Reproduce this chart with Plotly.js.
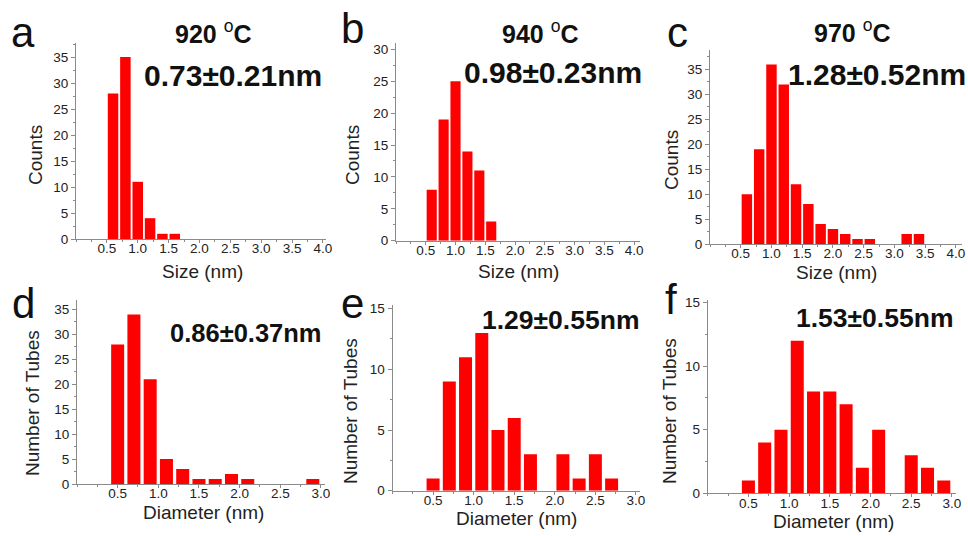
<!DOCTYPE html>
<html>
<head>
<meta charset="utf-8">
<script src="https://cdn.plot.ly/plotly-3.0.1.min.js"></script>
<style>
html,body{margin:0;padding:0;background:#fff;overflow:hidden;}
#chart{width:968px;height:536px;}
</style>
</head>
<body>
<div id="chart"></div>
<script>
// ---- data ----
const aSize = [0.6, 0.8, 1.0, 1.2, 1.4, 1.6];
const aCounts = [28, 35, 11, 4, 1, 1];
const bSize = [0.6, 0.8, 1.0, 1.2, 1.4, 1.6];
const bCounts = [8, 19, 25, 14, 11, 3];
const cSize = [0.6, 0.8, 1.0, 1.2, 1.4, 1.6, 1.8, 2.0, 2.2, 2.4, 2.6, 3.2, 3.4];
const cCounts = [10, 19, 36, 32, 12, 8, 4, 3, 2, 1, 1, 2, 2];
const dDiam = [0.5, 0.7, 0.9, 1.1, 1.3, 1.5, 1.7, 1.9, 2.1, 2.9];
const dTubes = [28, 34, 21, 5, 3, 1, 1, 2, 1, 1];
const eDiam = [0.5, 0.7, 0.9, 1.1, 1.3, 1.5, 1.7, 2.1, 2.3, 2.5, 2.7];
const eTubes = [1, 9, 11, 13, 5, 6, 3, 3, 1, 3, 1];
const fDiam = [0.5, 0.7, 0.9, 1.1, 1.3, 1.5, 1.7, 1.9, 2.1, 2.5, 2.7, 2.9];
const fTubes = [1, 4, 5, 12, 8, 8, 7, 2, 5, 3, 2, 1];

const topTicks = [0.5, 1.0, 1.5, 2.0, 2.5, 3.0, 3.5, 4.0];
const topTickText = ['0.5', '1.0', '1.5', '2.0', '2.5', '3.0', '3.5', '4.0'];
const botTicks = [0.5, 1.0, 1.5, 2.0, 2.5, 3.0];
const botTickText = ['0.5', '1.0', '1.5', '2.0', '2.5', '3.0'];

const panelLetters = ['a', 'b', 'c', 'd', 'e', 'f'];
const tempValues = ['920', '940', '970'];
const meanLabels = ['0.73±0.21nm', '0.98±0.23nm', '1.28±0.52nm', '0.86±0.37nm', '1.29±0.55nm', '1.53±0.55nm'];
const yTitles = ['Counts', 'Counts', 'Counts', 'Number of Tubes', 'Number of Tubes', 'Number of Tubes'];
const xTitles = ['Size (nm)', 'Size (nm)', 'Size (nm)', 'Diameter (nm)', 'Diameter (nm)', 'Diameter (nm)'];

// ---- layout helpers (pixel -> paper) ----
const W = 968, H = 536;
const px = v => v / W;
const py = v => 1 - v / H;

const RED = '#ff0000';
const AX = '#8a8a8a';
const TXT = '#222222';
const FONT = 'Liberation Sans, Arial, sans-serif';

const xs = [aSize, bSize, cSize, dDiam, eDiam, fDiam];
const ys = [aCounts, bCounts, cCounts, dTubes, eTubes, fTubes];
const barW = [0.17, 0.17, 0.17, 0.16, 0.16, 0.16];

const traces = xs.map((x, i) => ({
  type: 'bar',
  x: x,
  y: ys[i],
  width: barW[i],
  marker: {color: RED, line: {width: 0}},
  xaxis: i === 0 ? 'x' : 'x' + (i + 1),
  yaxis: i === 0 ? 'y' : 'y' + (i + 1),
  hoverinfo: 'x+y',
  showlegend: false
}));

// panel geometry in pixels: [x0, x1], [yTop, yBottom], ranges
const geom = [
  {x: [76, 326], y: [43, 239], xr: [0, 4.05], yr: [0, 37.7], ydt: 5},
  {x: [396, 640], y: [43, 240.7], xr: [0, 4.1], yr: [0, 31], ydt: 5},
  {x: [710, 962], y: [49.5, 244], xr: [0, 4.1], yr: [0, 39], ydt: 5},
  {x: [77, 325], y: [299.5, 484], xr: [0, 3.05], yr: [0, 37], ydt: 5},
  {x: [392.5, 640], y: [305, 490.7], xr: [0, 3.05], yr: [0, 15.3], ydt: 5},
  {x: [707.7, 956], y: [300, 493.3], xr: [0, 3.05], yr: [0, 15.2], ydt: 5}
];

const layout = {
  width: W, height: H,
  margin: {l: 0, r: 0, t: 0, b: 0},
  paper_bgcolor: '#fff',
  plot_bgcolor: '#fff',
  font: {family: FONT, color: TXT},
  showlegend: false,
  annotations: []
};

geom.forEach((g, i) => {
  const top = i < 3;
  const xk = i === 0 ? 'xaxis' : 'xaxis' + (i + 1);
  const yk = i === 0 ? 'yaxis' : 'yaxis' + (i + 1);
  layout[xk] = {
    domain: [px(g.x[0]), px(g.x[1])],
    range: g.xr,
    anchor: i === 0 ? 'y' : 'y' + (i + 1),
    tickmode: 'array',
    tickvals: top ? topTicks : botTicks,
    ticktext: top ? topTickText : botTickText,
    ticks: 'outside', ticklen: 3, tickcolor: AX, tickwidth: 1,
    ticklabelstandoff: -6,
    ticklabeloverflow: 'allow',
    minor: {ticks: 'outside', ticklen: 2, tickcolor: AX, dtick: 0.25, tick0: 0},
    showline: true, linecolor: AX, linewidth: 1,
    showgrid: false, zeroline: false,
    tickfont: {size: 13.5, color: TXT, family: FONT},
    fixedrange: true
  };
  layout[yk] = {
    domain: [py(g.y[1]), py(g.y[0])],
    range: g.yr,
    anchor: i === 0 ? 'x' : 'x' + (i + 1),
    tickmode: 'linear', tick0: 0, dtick: g.ydt,
    ticks: 'outside', ticklen: 4, tickcolor: AX, tickwidth: 1,
    minor: {ticks: 'outside', ticklen: 2, tickcolor: AX, dtick: g.ydt / 2, tick0: 0},
    showline: true, linecolor: AX, linewidth: 1,
    showgrid: false, zeroline: false,
    tickfont: {size: 13.5, color: TXT, family: FONT},
    fixedrange: true
  };
});

// annotation positions (pixels)
const letterPos = [[23, 33], [352, 28], [677, 33], [23, 303], [352, 303], [671, 299]];
const tempPos = [[213, 32], [540, 32], [852, 31]];
const meanPos = [[233, 75], [553, 73], [877, 74], [246, 333], [560, 320], [874, 318]];
const meanSize = [30, 30, 30, 25.5, 26.5, 26.5];
const yTitlePos = [[35, 155], [352, 155], [671, 160], [32, 403], [350, 411], [669, 411]];
const xTitlePos = [[202, 271], [518, 271], [836, 272], [203, 512], [516, 518], [833, 521]];

const ann = layout.annotations;
panelLetters.forEach((t, i) => ann.push({
  text: t, xref: 'paper', yref: 'paper', x: px(letterPos[i][0]), y: py(letterPos[i][1]),
  xanchor: 'center', yanchor: 'middle', showarrow: false,
  font: {size: 42, color: '#111', family: FONT}
}));
tempValues.forEach((t, i) => ann.push({
  text: '<b>' + t + ' </b><sup>o</sup><b>C</b>', xref: 'paper', yref: 'paper',
  x: px(tempPos[i][0]), y: py(tempPos[i][1]),
  xanchor: 'center', yanchor: 'middle', showarrow: false,
  font: {size: 25, color: '#111', family: FONT}
}));
meanLabels.forEach((t, i) => ann.push({
  text: '<b>' + t + '</b>', xref: 'paper', yref: 'paper', x: px(meanPos[i][0]), y: py(meanPos[i][1]),
  xanchor: 'center', yanchor: 'middle', showarrow: false,
  font: {size: meanSize[i], color: '#111', family: FONT}
}));
yTitles.forEach((t, i) => ann.push({
  text: t, xref: 'paper', yref: 'paper', x: px(yTitlePos[i][0]), y: py(yTitlePos[i][1]),
  xanchor: 'center', yanchor: 'middle', showarrow: false, textangle: -90,
  font: {size: 19, color: TXT, family: FONT}
}));
xTitles.forEach((t, i) => ann.push({
  text: t, xref: 'paper', yref: 'paper', x: px(xTitlePos[i][0]), y: py(xTitlePos[i][1]),
  xanchor: 'center', yanchor: 'middle', showarrow: false,
  font: {size: 19, color: TXT, family: FONT}
}));

Plotly.newPlot('chart', traces, layout, {displayModeBar: false, staticPlot: true});
</script>
</body>
</html>
